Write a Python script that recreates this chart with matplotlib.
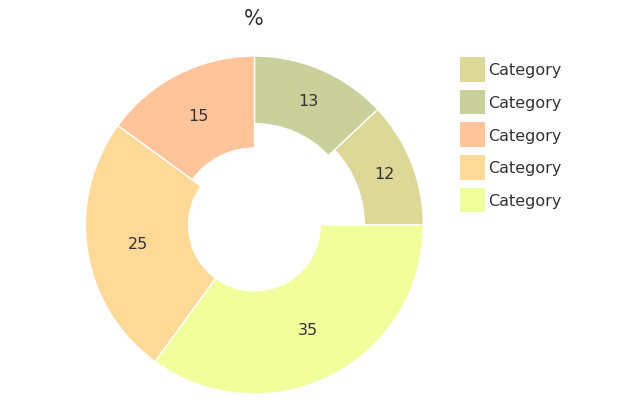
import matplotlib
matplotlib.use('Agg')
from matplotlib import pyplot as plt
from matplotlib.patches import Patch
import numpy as np

# dados
categories = ['Category', 'Category', 'Category', 'Category', 'Category']
values = [12, 13, 15, 25, 35]
colors = ['#DDD898', '#C9D09B', '#FFC499', '#FFD998', '#F0FE9B']
# espessura de cada fatia (fração do raio)
ring_widths = [0.35, 0.40, 0.545, 0.61, 0.61]

fig = plt.figure(figsize=(6.4, 4.14), dpi=100)
ax = fig.add_axes([0.1336, 0.0459, 0.528, 0.8164])

wedges, _ = ax.pie(values, colors=colors, startangle=0, counterclock=True,
                   radius=1, wedgeprops=dict(edgecolor='white', linewidth=1))

for w, rw, v in zip(wedges, ring_widths, values):
    w.set_width(rw)
    ang = np.deg2rad((w.theta1 + w.theta2) / 2)
    r = 1 - rw / 2
    ax.text(r * np.cos(ang), r * np.sin(ang), str(v), ha='center', va='center',
            fontsize=11.5, color='#333333')

ax.set_xlim(-1, 1)
ax.set_ylim(-1, 1)
ax.set_aspect('equal')
ax.axis('off')

fig.text(0.397, 0.955, '%', ha='center', va='center', fontsize=15, color='#333333')

handles = [Patch(facecolor=c, edgecolor='none') for c in colors]
fig.legend(handles, categories, loc='upper left', bbox_to_anchor=(0.719, 0.86),
           frameon=False, fontsize=11.5, handlelength=1.565, handleheight=2.0,
           handletextpad=0.2, labelspacing=0.5, borderaxespad=0, borderpad=0,
           labelcolor='#333333')

fig.savefig('out.png', dpi=100)
